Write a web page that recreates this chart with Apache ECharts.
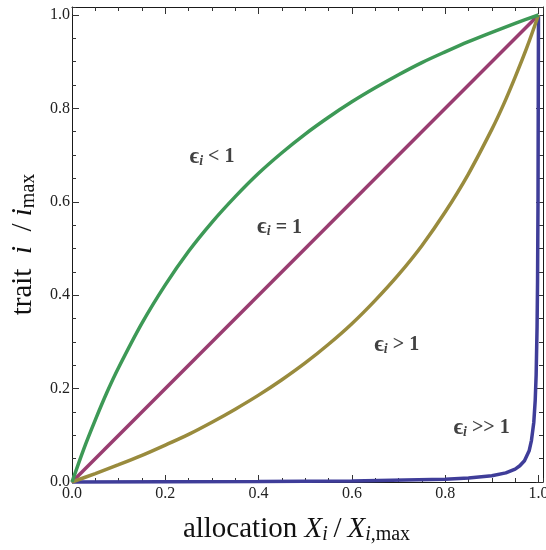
<!DOCTYPE html>
<html><head><meta charset="utf-8">
<script src="https://cdn.jsdelivr.net/npm/echarts@6/dist/echarts.min.js"></script>
<style>html,body{margin:0;padding:0;background:#fff}#c{width:546px;height:550px}</style>
</head><body><div id="c"></div>
<script>
// ---- data ----
const xBlue  = [0, 0.2, 0.4, 0.6, 0.8, 0.85, 0.9, 0.93, 0.95, 0.96, 0.97, 0.98, 0.985, 0.99, 0.993, 0.995, 0.997, 0.998, 0.999, 1.0];
const yBlue  = [0, 0.0005, 0.001, 0.0022, 0.006, 0.0084, 0.0133, 0.0195, 0.0277, 0.0347, 0.0455, 0.0668, 0.0893, 0.128, 0.175, 0.229, 0.333, 0.428, 0.6, 1.0];
const xRed   = [0, 1];
const yRed   = [0, 1];
const xOlive = [0, 0.05, 0.1, 0.15, 0.2, 0.25, 0.3, 0.35, 0.4, 0.45, 0.5, 0.55, 0.6, 0.65, 0.7, 0.75, 0.8, 0.85, 0.9, 0.925, 0.95, 0.975, 1.0];
const yOlive = [0, 0.018, 0.037, 0.057, 0.079, 0.102, 0.128, 0.156, 0.186, 0.219, 0.255, 0.295, 0.339, 0.389, 0.444, 0.506, 0.578, 0.660, 0.755, 0.808, 0.867, 0.930, 1.0];
const xGreen = [0, 0.025, 0.05, 0.075, 0.1, 0.15, 0.2, 0.25, 0.3, 0.35, 0.4, 0.45, 0.5, 0.55, 0.6, 0.65, 0.7, 0.75, 0.8, 0.85, 0.9, 0.95, 1.0];
const yGreen = [0, 0.070, 0.133, 0.192, 0.245, 0.340, 0.422, 0.494, 0.556, 0.611, 0.661, 0.705, 0.745, 0.781, 0.814, 0.844, 0.872, 0.898, 0.921, 0.943, 0.963, 0.982, 1.0];
const labelText = ['< 1', '= 1', '> 1', '>> 1'];
const labelX = [0.30, 0.445, 0.696, 0.878];
const labelY = [0.696, 0.545, 0.293, 0.115];
const tickLabels = ['0.0', '0.2', '0.4', '0.6', '0.8', '1.0'];

const SERIF = '"Liberation Serif", "DejaVu Serif", serif';
const X_MAX = 1.0097, Y_MAX = 1.0171;
const zip = (xs, ys) => xs.map((x, i) => [x, ys[i]]);

function majorLabel(v) {
  const k = Math.round(v / 0.2);
  return (Math.abs(v - k * 0.2) < 1e-6 && k >= 0 && k < tickLabels.length) ? tickLabels[k] : '';
}

const gridRect = { left: 72, right: 3, top: 7, bottom: 68, outerBoundsMode: 'none', containLabel: false };
const frameColor = '#1a1a1a';
const tickColor = '#333';

function majorAxis(pos, isX, showLabel, gridIndex) {
  return {
    type: 'value', gridIndex, position: pos,
    min: 0, max: isX ? X_MAX : Y_MAX, interval: 0.2,
    axisLine: { show: true, onZero: false, lineStyle: { color: frameColor, width: 1 } },
    axisTick: { show: true, inside: true, length: 7, lineStyle: { color: tickColor, width: 1 } },
    axisLabel: { show: showLabel, formatter: majorLabel, fontFamily: SERIF, fontSize: 16, color: '#222', margin: isX ? 4 : 2, showMaxLabel: false, hideOverlap: false },
    splitLine: { show: false }
  };
}
function minorAxis(pos, isX) {
  return {
    type: 'value', gridIndex: 1, position: pos,
    min: 0, max: isX ? X_MAX : Y_MAX, interval: 0.05,
    axisLine: { show: false, onZero: false },
    axisTick: { show: true, inside: true, length: 4, lineStyle: { color: tickColor, width: 1 } },
    axisLabel: { show: false },
    splitLine: { show: false }
  };
}

const FS = 29;
const titleRich = {
  it: { fontFamily: SERIF, fontSize: FS, fontStyle: 'italic', color: '#111' },
  n: { fontFamily: SERIF, fontSize: FS, color: '#111' },
  sub: { fontFamily: SERIF, fontSize: 20, fontStyle: 'italic', color: '#111', verticalAlign: 'bottom', lineHeight: 31 },
  subr: { fontFamily: SERIF, fontSize: 20, color: '#111', verticalAlign: 'bottom', lineHeight: 31 }
};
const xMain = majorAxis('bottom', true, true, 0);
xMain.name = 'allocation {it|X}{sub|i}{n|\u2009/\u2009}{it|X}{sub|i}{subr|,max}';
xMain.nameLocation = 'middle';
xMain.nameGap = 32;
xMain.nameTextStyle = { fontFamily: SERIF, fontSize: FS, color: '#111', padding: [0, 22, 0, 0], rich: titleRich };
const yMain = majorAxis('left', false, true, 0);
yMain.name = 'trait\u2002{it|i}{n|\u2002/ }{it|i}{subr|max}';
yMain.nameLocation = 'middle';
yMain.nameRotate = 90;
yMain.nameGap = 27;
yMain.nameTextStyle = { fontFamily: SERIF, fontSize: FS, color: '#111', rich: titleRich };

const lineSeries = (name, xs, ys, color, smooth) => ({
  type: 'line', name, data: zip(xs, ys), xAxisIndex: 0, yAxisIndex: 0,
  showSymbol: false, symbol: 'none', clip: false, smooth,
  lineStyle: { color, width: 3.5 }, z: 3
});

const labelRich = {
  e: { fontFamily: SERIF, fontSize: 23, fontWeight: 'bold', color: '#111', lineHeight: 22 },
  s: { fontFamily: SERIF, fontSize: 14, fontWeight: 'bold', fontStyle: 'italic', color: '#111', verticalAlign: 'bottom', lineHeight: 22 },
  t: { fontFamily: SERIF, fontSize: 20, fontWeight: 'bold', color: '#111', lineHeight: 22 }
};

const option = {
  animation: false,
  backgroundColor: '#fff',
  grid: [Object.assign({}, gridRect), Object.assign({}, gridRect)],
  xAxis: [xMain, majorAxis('top', true, false, 0), minorAxis('bottom', true), minorAxis('top', true)],
  yAxis: [yMain, majorAxis('right', false, false, 0), minorAxis('left', false), minorAxis('right', false)],
  series: [
    lineSeries('blue', xBlue, yBlue, '#3F3D99', false),
    lineSeries('red', xRed, yRed, '#993D71', false),
    lineSeries('olive', xOlive, yOlive, '#998B3D', 0.3),
    lineSeries('green', xGreen, yGreen, '#3D9956', 0.3),
    {
      type: 'scatter', xAxisIndex: 0, yAxisIndex: 0, symbolSize: 0, z: 5,
      data: labelText.map((t, i) => ({ name: t, value: [labelX[i], labelY[i]] })),
      label: {
        show: true, position: 'inside',
        formatter: p => '{e|ϵ}{s|i}{t| ' + p.name + '}',
        rich: labelRich
      }
    }
  ]
};
const chart = echarts.init(document.getElementById('c'), null, { renderer: 'canvas' });
chart.setOption(option);
</script></body></html>
